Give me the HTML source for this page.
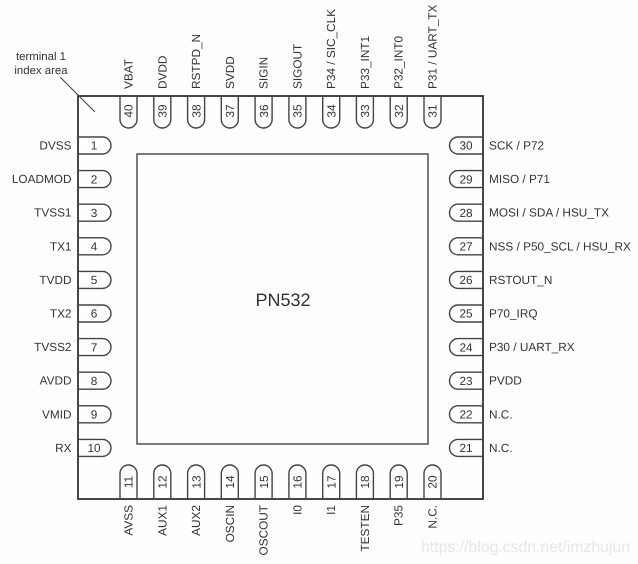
<!DOCTYPE html>
<html><head><meta charset="utf-8"><style>
html,body{margin:0;padding:0;background:#fefefe}
svg{display:block}
text{font-family:"Liberation Sans",sans-serif;font-size:11.8px;fill:#333;text-rendering:geometricPrecision}
.m{text-anchor:middle}.e{text-anchor:end}
</style></head><body>
<svg width="638" height="564" viewBox="0 0 638 564" xmlns="http://www.w3.org/2000/svg">
<defs>
<path id="l" d="M78 -8.5H102.5a8.5 8.5 0 0 1 0 17H78" fill="none" stroke="#444" stroke-width="1.4"/>
<path id="r" d="M482 -8.5H458a8.5 8.5 0 0 0 0 17H482" fill="none" stroke="#444" stroke-width="1.4"/>
<path id="t" d="M-8.5 96V119.5a8.5 8.5 0 0 0 17 0V96" fill="none" stroke="#444" stroke-width="1.4"/>
<path id="b" d="M-8.5 499V473.5a8.5 8.5 0 0 1 17 0V499" fill="none" stroke="#444" stroke-width="1.4"/>
</defs>
<rect width="638" height="564" fill="#fefefe"/>
<rect x="78" y="96" width="405" height="403" fill="none" stroke="#333" stroke-width="1.8"/>
<rect x="137" y="154" width="291" height="290" fill="none" stroke="#444" stroke-width="1.4"/>
<path d="M60 77L95 112" stroke="#444" stroke-width="1.1"/>
<text class="m" x="41" y="60" style="font-size:11.4px">terminal 1</text>
<text class="m" x="41" y="74" style="font-size:11.4px">index area</text>
<text class="m" x="283" y="306" style="font-size:18px">PN532</text>

<use href="#l" y="145.5"/><use href="#l" y="179.1"/><use href="#l" y="212.7"/><use href="#l" y="246.3"/><use href="#l" y="279.9"/><use href="#l" y="313.5"/><use href="#l" y="347.1"/><use href="#l" y="380.7"/><use href="#l" y="414.3"/><use href="#l" y="447.9"/>
<use href="#r" y="145.5"/><use href="#r" y="179.1"/><use href="#r" y="212.7"/><use href="#r" y="246.3"/><use href="#r" y="279.9"/><use href="#r" y="313.5"/><use href="#r" y="347.1"/><use href="#r" y="380.7"/><use href="#r" y="414.3"/><use href="#r" y="447.9"/>
<use href="#t" x="128.5"/><use href="#t" x="162.3"/><use href="#t" x="196.1"/><use href="#t" x="229.8"/><use href="#t" x="263.6"/><use href="#t" x="297.4"/><use href="#t" x="331.2"/><use href="#t" x="364.9"/><use href="#t" x="398.7"/><use href="#t" x="432.5"/>
<use href="#b" x="128.5"/><use href="#b" x="162.3"/><use href="#b" x="196.1"/><use href="#b" x="229.8"/><use href="#b" x="263.6"/><use href="#b" x="297.4"/><use href="#b" x="331.2"/><use href="#b" x="364.9"/><use href="#b" x="398.7"/><use href="#b" x="432.5"/>

<text class="e" x="71.5" y="149.5">DVSS</text><text class="m" x="94" y="149.7">1</text>
<text class="e" x="71.5" y="183.1">LOADMOD</text><text class="m" x="94" y="183.3">2</text>
<text class="e" x="71.5" y="216.7">TVSS1</text><text class="m" x="94" y="216.9">3</text>
<text class="e" x="71.5" y="250.3">TX1</text><text class="m" x="94" y="250.5">4</text>
<text class="e" x="71.5" y="283.9">TVDD</text><text class="m" x="94" y="284.1">5</text>
<text class="e" x="71.5" y="317.5">TX2</text><text class="m" x="94" y="317.7">6</text>
<text class="e" x="71.5" y="351.1">TVSS2</text><text class="m" x="94" y="351.3">7</text>
<text class="e" x="71.5" y="384.7">AVDD</text><text class="m" x="94" y="384.9">8</text>
<text class="e" x="71.5" y="418.3">VMID</text><text class="m" x="94" y="418.5">9</text>
<text class="e" x="71.5" y="451.9">RX</text><text class="m" x="94" y="452.1">10</text>

<text x="489" y="149.5">SCK / P72</text><text class="m" x="466" y="149.7">30</text>
<text x="489" y="183.1">MISO / P71</text><text class="m" x="466" y="183.3">29</text>
<text x="489" y="216.7">MOSI / SDA / HSU_TX</text><text class="m" x="466" y="216.9">28</text>
<text x="489" y="250.3">NSS / P50_SCL / HSU_RX</text><text class="m" x="466" y="250.5">27</text>
<text x="489" y="283.9">RSTOUT_N</text><text class="m" x="466" y="284.1">26</text>
<text x="489" y="317.5">P70_IRQ</text><text class="m" x="466" y="317.7">25</text>
<text x="489" y="351.1">P30 / UART_RX</text><text class="m" x="466" y="351.3">24</text>
<text x="489" y="384.7">PVDD</text><text class="m" x="466" y="384.9">23</text>
<text x="489" y="418.3">N.C.</text><text class="m" x="466" y="418.5">22</text>
<text x="489" y="451.9">N.C.</text><text class="m" x="466" y="452.1">21</text>

<text transform="translate(132.5 89) rotate(-90)">VBAT</text><text class="m" transform="translate(132.7 111) rotate(-90)">40</text>
<text transform="translate(166.3 89) rotate(-90)">DVDD</text><text class="m" transform="translate(166.5 111) rotate(-90)">39</text>
<text transform="translate(200.1 89) rotate(-90)">RSTPD_N</text><text class="m" transform="translate(200.3 111) rotate(-90)">38</text>
<text transform="translate(233.8 89) rotate(-90)">SVDD</text><text class="m" transform="translate(234 111) rotate(-90)">37</text>
<text transform="translate(267.6 89) rotate(-90)">SIGIN</text><text class="m" transform="translate(267.8 111) rotate(-90)">36</text>
<text transform="translate(301.4 89) rotate(-90)">SIGOUT</text><text class="m" transform="translate(301.6 111) rotate(-90)">35</text>
<text transform="translate(335.2 89) rotate(-90)">P34 / SIC_CLK</text><text class="m" transform="translate(335.4 111) rotate(-90)">34</text>
<text transform="translate(368.9 89) rotate(-90)">P33_INT1</text><text class="m" transform="translate(369.1 111) rotate(-90)">33</text>
<text transform="translate(402.7 89) rotate(-90)">P32_INT0</text><text class="m" transform="translate(402.9 111) rotate(-90)">32</text>
<text transform="translate(436.5 89) rotate(-90)">P31 / UART_TX</text><text class="m" transform="translate(436.7 111) rotate(-90)">31</text>

<text class="e" transform="translate(132.5 505) rotate(-90)">AVSS</text><text class="m" transform="translate(132.7 482) rotate(-90)">11</text>
<text class="e" transform="translate(166.3 505) rotate(-90)">AUX1</text><text class="m" transform="translate(166.5 482) rotate(-90)">12</text>
<text class="e" transform="translate(200.1 505) rotate(-90)">AUX2</text><text class="m" transform="translate(200.3 482) rotate(-90)">13</text>
<text class="e" transform="translate(233.8 505) rotate(-90)">OSCIN</text><text class="m" transform="translate(234 482) rotate(-90)">14</text>
<text class="e" transform="translate(267.6 505) rotate(-90)">OSCOUT</text><text class="m" transform="translate(267.8 482) rotate(-90)">15</text>
<text class="e" transform="translate(301.4 505) rotate(-90)">I0</text><text class="m" transform="translate(301.6 482) rotate(-90)">16</text>
<text class="e" transform="translate(335.2 505) rotate(-90)">I1</text><text class="m" transform="translate(335.4 482) rotate(-90)">17</text>
<text class="e" transform="translate(368.9 505) rotate(-90)">TESTEN</text><text class="m" transform="translate(369.1 482) rotate(-90)">18</text>
<text class="e" transform="translate(402.7 505) rotate(-90)">P35</text><text class="m" transform="translate(402.9 482) rotate(-90)">19</text>
<text class="e" transform="translate(436.5 505) rotate(-90)">N.C.</text><text class="m" transform="translate(436.7 482) rotate(-90)">20</text>

<text x="421" y="552" textLength="209" lengthAdjust="spacingAndGlyphs" style="font-size:16px;fill:#e6e6e6">https://blog.csdn.net/imzhujun</text>
</svg>
</body></html>
